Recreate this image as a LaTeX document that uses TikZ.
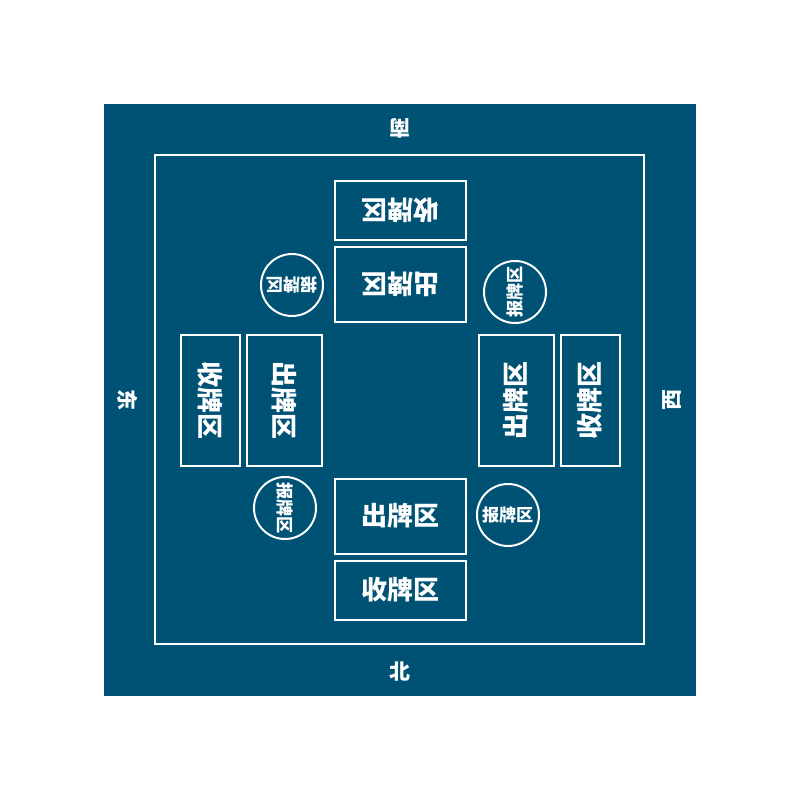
\documentclass[tikz,border=0pt]{standalone}
\usepackage{fontspec}
\usepackage{xcolor}
\usepackage{tikz}
\usetikzlibrary{positioning}
\newfontfamily\cjk{Noto Sans CJK SC}
\definecolor{tableblue}{RGB}{0,82,116}

\begin{document}
\begin{tikzpicture}[
    x=0.5pt, y=-0.5pt,
    zone/.style={rectangle, draw=white, line width=1pt, minimum width=65.5pt, minimum height=#1, inner sep=0pt, font=\cjk\bfseries\fontsize{13}{13}\selectfont, text=white},
    zone/.default=29.5pt,
    callbox/.style={circle, draw=white, line width=1pt, minimum size=31pt, inner sep=0pt, font=\cjk\bfseries\fontsize{8.6}{9}\selectfont, text=white},
    dirlabel/.style={font=\cjk\bfseries\fontsize{10.5}{11}\selectfont, text=white}
]
    \useasboundingbox (0,0) rectangle (800,800);
    % Table cloth and border
    \fill[tableblue] (104,104) rectangle (696,696);
    \draw[white, line width=1pt] (155,155) rectangle (644,644);

    % Directions
    \node[dirlabel, rotate=180] (south) at (400,128) {南};
    \node[dirlabel]             (north) at (400,672) {北};
    \node[dirlabel, rotate=-90] (east)  at (128,400) {东};
    \node[dirlabel, rotate=90]  (west)  at (672,400) {西};

    % South (top)
    \node[zone, rotate=180]        (scollect) at (400,210) {收牌区};
    \node[zone=37.5pt, rotate=180] (splay)    at (400,284) {出牌区};
    \node[callbox, rotate=180]     (scall)    at (292,285) {报牌区};

    % North (bottom)
    \node[zone=37.5pt] (nplay)    at (400,516) {出牌区};
    \node[zone]        (ncollect) at (400,590) {收牌区};
    \node[callbox]     (ncall)    at (508,515) {报牌区};

    % East (left)
    \node[zone, rotate=-90]        (ecollect) at (210,400) {收牌区};
    \node[zone=37.5pt, rotate=-90] (eplay)    at (284,400) {出牌区};
    \node[callbox, rotate=-90]     (ecall)    at (285,508) {报牌区};

    % West (right)
    \node[zone=37.5pt, rotate=90] (wplay)    at (516,400) {出牌区};
    \node[zone, rotate=90]        (wcollect) at (590,400) {收牌区};
    \node[callbox, rotate=90]     (wcall)    at (515,292) {报牌区};

\end{tikzpicture}
\end{document}
